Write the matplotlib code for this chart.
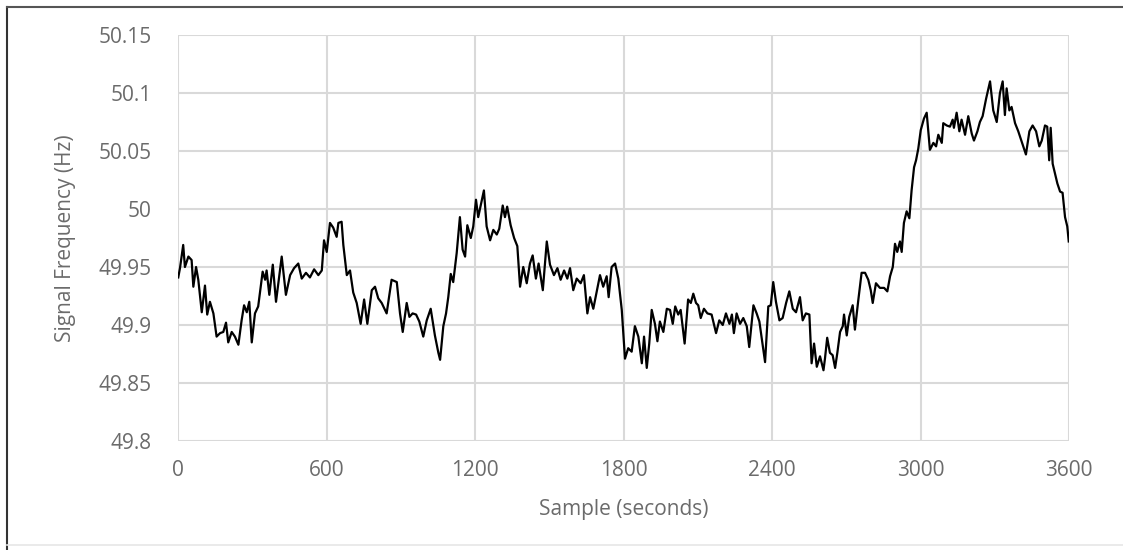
import matplotlib.pyplot as plt
import numpy as np

# time (s) and frequency (Hz)
t = [1, 8, 21, 28, 42, 55, 62, 73, 82, 96, 109, 118, 129, 143, 156, 170, 183, 194,
     203, 217, 230, 244, 257, 267, 278, 288, 298, 311, 324, 342, 352, 358, 369, 383,
     396, 419, 436, 453, 469, 486, 500, 517, 533, 550, 567, 581, 590, 601, 614, 627,
     641, 648, 661, 668, 682, 695, 708, 722, 738, 752, 765, 783, 796, 809, 823, 843,
     863, 884, 897, 908, 924, 935, 948, 962, 975, 991, 1005, 1021, 1038, 1052, 1059,
     1072, 1083, 1092, 1102, 1112, 1126, 1139, 1150, 1160, 1169, 1183, 1193, 1204,
     1213, 1223, 1236, 1247, 1261, 1274, 1288, 1298, 1312, 1321, 1330, 1344, 1358,
     1371, 1382, 1395, 1409, 1422, 1433, 1446, 1457, 1474, 1490, 1503, 1519, 1533,
     1546, 1560, 1573, 1584, 1597, 1611, 1627, 1640, 1654, 1665, 1678, 1692, 1705,
     1718, 1732, 1740, 1752, 1766, 1779, 1793, 1806, 1819, 1833, 1846, 1860, 1874,
     1883, 1894, 1904, 1914, 1927, 1937, 1947, 1961, 1975, 1988, 1999, 2009, 2021,
     2031, 2047, 2061, 2072, 2082, 2093, 2102, 2112, 2125, 2139, 2156, 2174, 2187,
     2201, 2214, 2228, 2238, 2246, 2257, 2271, 2284, 2298, 2308, 2325, 2338, 2349,
     2362, 2372, 2385, 2395, 2405, 2416, 2430, 2443, 2457, 2470, 2484, 2497, 2513,
     2524, 2537, 2551, 2560, 2570, 2581, 2594, 2608, 2614, 2623, 2634, 2645, 2655,
     2664, 2675, 2686, 2691, 2702, 2712, 2726, 2735, 2749, 2762, 2776, 2789, 2799,
     2807, 2820, 2836, 2853, 2866, 2877, 2888, 2897, 2906, 2917, 2924, 2933, 2944,
     2955, 2964, 2974, 2982, 2991, 3001, 3014, 3025, 3038, 3052, 3063, 3072, 3086,
     3092, 3106, 3119, 3130, 3135, 3146, 3157, 3166, 3180, 3193, 3207, 3216, 3230,
     3240, 3251, 3265, 3281, 3294, 3308, 3321, 3332, 3341, 3348, 3359, 3368, 3382,
     3395, 3409, 3426, 3440, 3453, 3467, 3480, 3490, 3503, 3512, 3520, 3526, 3534,
     3543, 3553, 3564, 3574, 3584, 3593, 3599]
freq = [49.941, 49.949, 49.969, 49.950, 49.959, 49.956, 49.933, 49.950, 49.939, 49.911,
        49.934, 49.909, 49.920, 49.910, 49.890, 49.893, 49.894, 49.902, 49.885, 49.894,
        49.890, 49.883, 49.904, 49.917, 49.911, 49.920, 49.885, 49.910, 49.916, 49.946,
        49.939, 49.947, 49.926, 49.952, 49.920, 49.959, 49.926, 49.943, 49.949, 49.953,
        49.940, 49.945, 49.941, 49.948, 49.943, 49.947, 49.973, 49.963, 49.988, 49.984,
        49.976, 49.988, 49.989, 49.969, 49.943, 49.947, 49.928, 49.919, 49.901, 49.922,
        49.901, 49.930, 49.933, 49.923, 49.919, 49.910, 49.939, 49.937, 49.910, 49.894,
        49.919, 49.907, 49.910, 49.909, 49.903, 49.890, 49.904, 49.914, 49.891, 49.876,
        49.870, 49.899, 49.910, 49.924, 49.944, 49.937, 49.962, 49.993, 49.965, 49.959,
        49.986, 49.975, 49.985, 50.008, 49.993, 50.003, 50.016, 49.985, 49.973, 49.982,
        49.978, 49.983, 50.003, 49.993, 50.002, 49.986, 49.975, 49.968, 49.933, 49.950,
        49.936, 49.953, 49.960, 49.940, 49.953, 49.930, 49.972, 49.952, 49.943, 49.949,
        49.939, 49.947, 49.940, 49.949, 49.930, 49.940, 49.936, 49.943, 49.910, 49.924,
        49.914, 49.929, 49.943, 49.933, 49.942, 49.924, 49.950, 49.953, 49.940, 49.913,
        49.871, 49.880, 49.877, 49.899, 49.890, 49.867, 49.890, 49.863, 49.884, 49.913,
        49.901, 49.886, 49.903, 49.894, 49.914, 49.913, 49.901, 49.916, 49.909, 49.913,
        49.884, 49.922, 49.919, 49.927, 49.919, 49.917, 49.906, 49.914, 49.910, 49.909,
        49.893, 49.904, 49.900, 49.910, 49.901, 49.909, 49.893, 49.910, 49.901, 49.906,
        49.899, 49.881, 49.917, 49.910, 49.903, 49.883, 49.868, 49.916, 49.917, 49.937,
        49.920, 49.904, 49.906, 49.919, 49.929, 49.914, 49.911, 49.924, 49.904, 49.910,
        49.909, 49.867, 49.884, 49.864, 49.873, 49.861, 49.871, 49.889, 49.876, 49.874,
        49.863, 49.876, 49.894, 49.899, 49.909, 49.891, 49.907, 49.917, 49.896, 49.922,
        49.945, 49.945, 49.939, 49.930, 49.919, 49.936, 49.932, 49.932, 49.929, 49.942,
        49.950, 49.970, 49.963, 49.972, 49.963, 49.988, 49.998, 49.992, 50.016, 50.036,
        50.042, 50.052, 50.068, 50.078, 50.083, 50.051, 50.057, 50.054, 50.064, 50.057,
        50.074, 50.072, 50.071, 50.077, 50.070, 50.083, 50.067, 50.077, 50.064, 50.080,
        50.065, 50.059, 50.067, 50.075, 50.080, 50.095, 50.110, 50.085, 50.075, 50.100,
        50.110, 50.081, 50.104, 50.085, 50.088, 50.074, 50.067, 50.058, 50.047, 50.067,
        50.072, 50.067, 50.054, 50.059, 50.072, 50.071, 50.042, 50.070, 50.039, 50.031,
        50.022, 50.015, 50.014, 49.993, 49.985, 49.972]

x_ticks = [0, 600, 1200, 1800, 2400, 3000, 3600]
y_ticks = [49.8, 49.85, 49.9, 49.95, 50.0, 50.05, 50.1, 50.15]
y_labels = ["49.8", "49.85", "49.9", "49.95", "50", "50.05", "50.1", "50.15"]

plt.rcParams['font.family'] = ['Open Sans', 'DejaVu Sans']
txt = '#6b6b6b'

fig = plt.figure(figsize=(11.23, 5.5), dpi=100)
ax = fig.add_axes([178 / 1123, 1 - 441 / 550, 891 / 1123, 406 / 550])

ax.plot(t, freq, color='black', linewidth=1.6)

ax.set_xlim(0, 3600)
ax.set_ylim(49.8, 50.15)
ax.set_xticks(x_ticks)
ax.set_yticks(y_ticks)
ax.set_yticklabels(y_labels)
ax.grid(True, color='#d9d9d9', linewidth=1.5)
ax.set_axisbelow(True)
for s in ax.spines.values():
    s.set_visible(False)
ax.tick_params(length=0, labelsize=15, colors=txt)
ax.tick_params(axis='x', pad=14)
ax.tick_params(axis='y', pad=19)

ax.set_xlabel('Sample (seconds)', fontsize=15, color=txt, va='center')
ax.set_ylabel('Signal Frequency (Hz)', fontsize=15, color=txt, va='center')
ax.xaxis.set_label_coords(0.5, (441 - 509) / 406)
ax.yaxis.set_label_coords((66 - 178) / 891, 0.5)

# outer frame of the pasted chart
fig.add_artist(plt.Line2D([7 / 1123, 7 / 1123], [0, 1 - 7 / 550], color='#333333', linewidth=1.5))
fig.add_artist(plt.Line2D([7 / 1123, 1], [1 - 7 / 550, 1 - 7 / 550], color='#555555', linewidth=1.5))
fig.add_artist(plt.Line2D([7 / 1123, 1], [1 - 545 / 550, 1 - 545 / 550], color='#e6e6e6', linewidth=1.2))

fig.savefig('out.png', dpi=100)
